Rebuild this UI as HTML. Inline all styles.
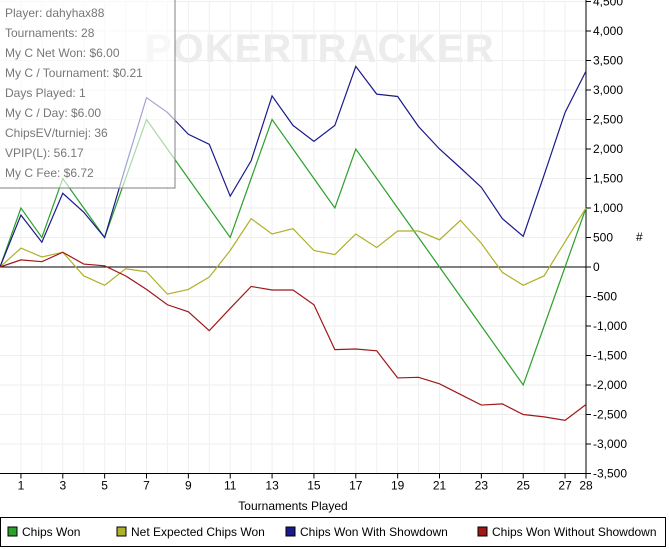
<!DOCTYPE html>
<html><head><meta charset="utf-8"><style>
body{margin:0;background:#fff;font-family:"Liberation Sans",sans-serif}
svg{display:block}
text{font-family:"Liberation Sans",sans-serif}
</style></head><body>
<svg id="c" width="669" height="549"></svg>
<script>
const xs=[0,1,2,3,4,5,6,7,8,9,10,11,12,13,14,15,16,17,18,19,20,21,22,23,24,25,26,27,28];
const chipsWon=[0,1000,500,1500,1000,500,1500,2500,2000,1500,1000,500,1500,2500,2000,1500,1000,2000,1500,1000,500,0,-500,-1000,-1500,-2000,-1000,0,1000];
const netExpected=[0,320,170,250,-150,-310,-30,-80,-460,-380,-170,280,820,560,650,280,210,560,330,610,610,460,790,400,-90,-310,-150,430,1000];
const withShowdown=[0,880,420,1250,930,500,1700,2870,2620,2250,2080,1200,1800,2900,2400,2130,2400,3400,2930,2890,2380,2000,1680,1350,820,520,1560,2620,3320];
const withoutShowdown=[0,120,90,250,50,20,-150,-380,-640,-760,-1080,-700,-330,-390,-390,-640,-1400,-1390,-1420,-1880,-1870,-1980,-2160,-2340,-2320,-2500,-2540,-2600,-2330];
const yTicks=[4500,4000,3500,3000,2500,2000,1500,1000,500,0,-500,-1000,-1500,-2000,-2500,-3000,-3500];
const xTicks=[1,3,5,7,9,11,13,15,17,19,21,23,25,27,28];
const series=[["chips-won",chipsWon,"#2ca02c","Chips Won"],["net-expected-chips-won",netExpected,"#b0b02a","Net Expected Chips Won"],["chips-won-with-showdown",withShowdown,"#1a1a8c","Chips Won With Showdown"],["chips-won-without-showdown",withoutShowdown,"#a01818","Chips Won Without Showdown"]];
const L=0,R=586,T=1.5,B=473.5;
const X=v=>L+v*(R-L)/28;
const Y=v=>T+(4500-v)*(B-T)/8000;
const svg=document.getElementById('c');const NS="http://www.w3.org/2000/svg";
function mk(t,a,p){const e=document.createElementNS(NS,t);for(const k in a)e.setAttribute(k,a[k]);(p||svg).appendChild(e);return e;}
// watermark
const wm=mk('text',{x:145,y:62,'font-size':40,'font-weight':'bold',fill:'#ececec','letter-spacing':'1'});wm.textContent='POKERTRACKER';

// grid
for(const t of yTicks){const g=mk('line',{x1:L,x2:R,y1:Y(t),y2:Y(t),stroke:'#eeeeee'});
const tk=mk('line',{x1:R,x2:R+5,y1:Y(t),y2:Y(t),stroke:'#000'});
const lb=mk('text',{x:R+7,y:Y(t)+4,'font-size':12,fill:'#000'});lb.textContent=t.toLocaleString('en-US');}
for(const t of xs){if(t===0)continue;const g=mk('line',{x1:X(t),x2:X(t),y1:T,y2:B,stroke:'#f0f0f0'});}
for(const t of xTicks){const tk=mk('line',{x1:X(t),x2:X(t),y1:B,y2:B+5,stroke:'#000'});
const lb=mk('text',{x:X(t),y:B+16,'font-size':12,'text-anchor':'middle',fill:'#000'});lb.textContent=t;}
const zl=mk('line',{x1:L,x2:R,y1:Y(0),y2:Y(0),stroke:'#000'});
const ax=mk('path',{d:`M${L},${B}H${R}V0`,stroke:'#000',fill:'none'});
const yt=mk('text',{x:636,y:241,'font-size':12});yt.textContent='#';
const xt=mk('text',{x:293,y:510,'font-size':12,'text-anchor':'middle'});xt.textContent='Tournaments Played';
for(const s of series){const p=mk('polyline',{points:s[1].map((v,i)=>X(xs[i])+','+Y(v)).join(' '),fill:'none',stroke:s[2],'stroke-width':1.2});}
// info box
const g=mk('g',{});
mk('rect',{x:-1,y:-1,width:176,height:189,fill:'rgba(255,255,255,0.6)',stroke:'#808080'},g);
const info=["Player: dahyhax88","Tournaments: 28","My C Net Won: $6.00","My C / Tournament: $0.21","Days Played: 1","My C / Day: $6.00","ChipsEV/turniej: 36","VPIP(L): 56.17","My C Fee: $6.72"];
info.forEach((s,i)=>{const t=mk('text',{x:5,y:17+i*20,'font-size':12,fill:'#777'},g);t.textContent=s;});
// legend
const lg=mk('g',{});
mk('rect',{x:0.5,y:517.5,width:665,height:29,fill:'#fff',stroke:'#000'},lg);
const lx=[8,117,286,478];
series.forEach((s,i)=>{const e=mk('g',{},lg);
mk('rect',{x:lx[i],y:527,width:9,height:9,fill:s[2],stroke:'#000'},e);
const t=mk('text',{x:lx[i]+14,y:536,'font-size':12},e);t.textContent=s[3];});
</script>
</body></html>
